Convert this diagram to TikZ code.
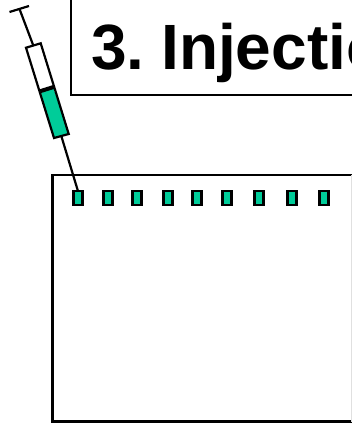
\documentclass[tikz,border=0pt]{standalone}
\usepackage{fontspec}
\setmainfont{Liberation Sans}
\definecolor{gelgreen}{RGB}{0,204,153}
\tikzset{
  outline/.style={draw=black,line width=2.2pt},
  well/.style={draw=black,line width=2.4pt,fill=gelgreen,minimum width=8.8pt,minimum height=13.6pt,inner sep=0pt,outer sep=0pt},
}
\begin{document}
\begin{tikzpicture}[x=1pt,y=-1pt]
\useasboundingbox (0,0) rectangle (352,423);
% title
\draw[outline] (71,-5) -- (71,95) -- (360,95);
\node[anchor=base west,inner sep=0pt,font=\bfseries\fontsize{64pt}{64pt}\selectfont] (title) at (91,69) {3.\kern-7pt{} Injection};
% gel
\draw[outline] (352,175) -- (52.5,175) -- (52.5,421.5) -- (352,421.5);
\draw[line width=0.8pt,black!12] (351.5,175) -- (351.5,421.5);
\foreach \n/\x in {1/78,2/108,3/137,4/168,5/197,6/227,7/259,8/292,9/324}
  \node[well] (well\n) at (\x,198) {};
% syringe
\coordinate (handle) at (19.5,9);
\coordinate (barreltop) at (33.3,45.5);
\coordinate (barrelend) at (61.3,136);
\fill[gelgreen] (40.7,91.7) -- (53.3,87.7) -- (68.7,134) -- (54,138) -- cycle;
\draw[outline] (barreltop) -- (handle);
\draw[outline] (9.5,12) -- (29,6);
\draw[outline] (26,47.7) -- (40.7,43.3) -- (68.7,134) -- (54,138) -- cycle;
\draw[line width=4pt] (40.2,91.2) -- (53.6,87);
\draw[outline] (barrelend) -- (well1.north);
\end{tikzpicture}
\end{document}
